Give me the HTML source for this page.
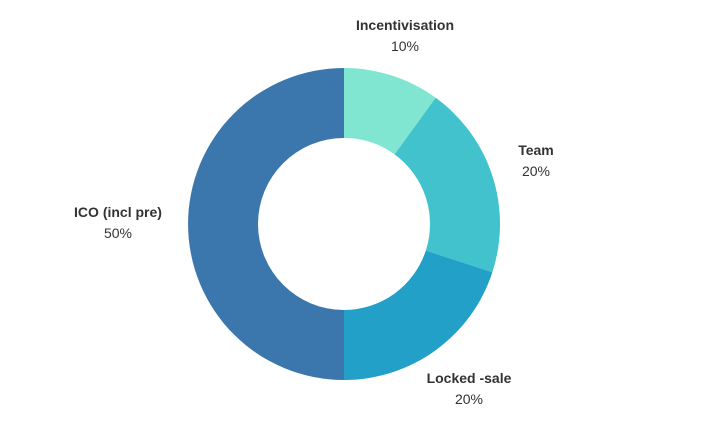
<!DOCTYPE html>
<html><head><meta charset="utf-8">
<style>
html,body{margin:0;padding:0;background:#fff;width:705px;height:429px;overflow:hidden}
svg{display:block}
text{font-family:"Liberation Sans",sans-serif;fill:#333}
.t{font-weight:bold;font-size:14px}
.v{font-size:14px}
</style></head>
<body>
<svg id="chart" width="705" height="429" viewBox="0 0 705 429"></svg>
<script>
const categories = ["Incentivisation", "Team", "Locked -sale", "ICO (incl pre)"];
const values = [10, 20, 20, 50];
const valueLabels = ["10%", "20%", "20%", "50%"];
const colors = ["#80e6d1", "#42c2cd", "#22a0c8", "#3b77ad"];

const cx = 344, cy = 224, R = 156, r = 86;
const svg = document.getElementById('chart');
const NS = 'http://www.w3.org/2000/svg';
const total = values.reduce((a, b) => a + b, 0);
const labelPos = [[405, 30], [536, 155], [469, 383], [118, 217]];

function pt(rad, a) { return [cx + rad * Math.sin(a), cy - rad * Math.cos(a)]; }

let acc = 0;
values.forEach((v, i) => {
  const a0 = acc / total * 2 * Math.PI;
  acc += v;
  const a1 = acc / total * 2 * Math.PI;
  const large = (a1 - a0) > Math.PI ? 1 : 0;
  const [x0, y0] = pt(R, a0), [x1, y1] = pt(R, a1);
  const [x2, y2] = pt(r, a1), [x3, y3] = pt(r, a0);
  const p = document.createElementNS(NS, 'path');
  p.setAttribute('d', `M${x0},${y0} A${R},${R} 0 ${large} 1 ${x1},${y1} L${x2},${y2} A${r},${r} 0 ${large} 0 ${x3},${y3} Z`);
  p.setAttribute('fill', colors[i]);
  
  
  svg.appendChild(p);

  const [lx, ly] = labelPos[i];
  const t = document.createElementNS(NS, 'text');
  t.setAttribute('x', lx); t.setAttribute('y', ly);
  t.setAttribute('text-anchor', 'middle'); t.setAttribute('class', 't');
  t.textContent = categories[i];
  
  
  svg.appendChild(t);

  const t2 = document.createElementNS(NS, 'text');
  t2.setAttribute('x', lx); t2.setAttribute('y', ly + 21);
  t2.setAttribute('text-anchor', 'middle'); t2.setAttribute('class', 'v');
  t2.textContent = valueLabels[i];
  
  
  svg.appendChild(t2);
});
</script>
</body></html>
